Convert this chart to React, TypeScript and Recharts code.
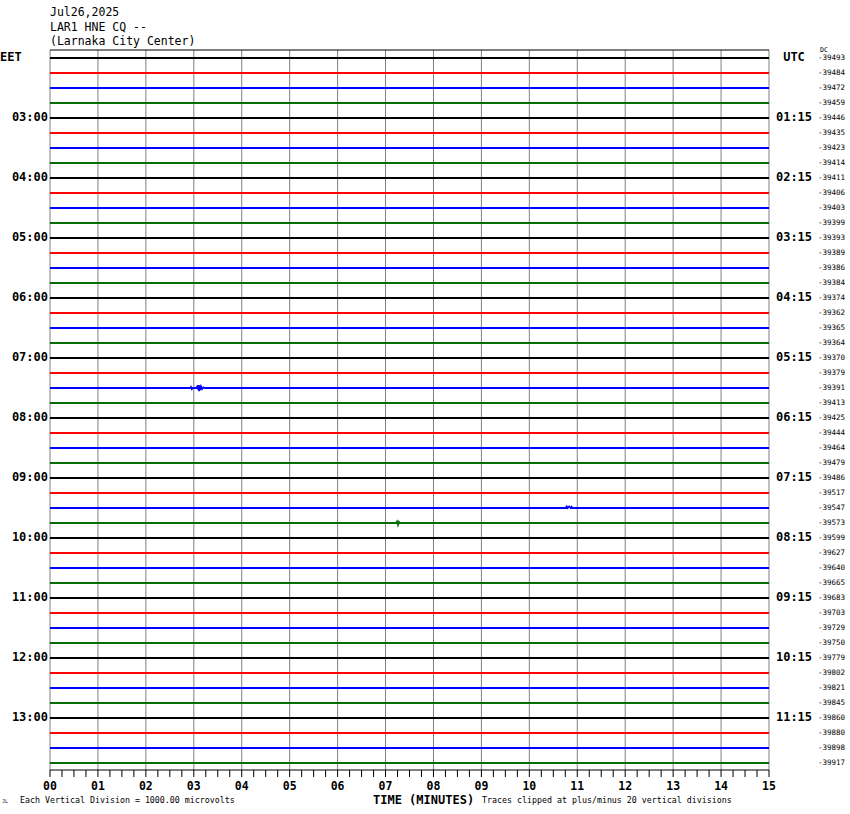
import React from 'react';
import { LineChart, Line, XAxis, YAxis, ReferenceLine } from 'recharts';

const HEADER_LINES = ['Jul26,2025', 'LAR1 HNE CQ --', '(Larnaka City Center)'];
const TRACE_COLORS = ['#000000', '#ff0000', '#0000ff', '#006e00'];
const EET_LABELS = ['EET', '03:00', '04:00', '05:00', '06:00', '07:00', '08:00', '09:00', '10:00', '11:00', '12:00', '13:00'];
const UTC_LABELS = ['UTC', '01:15', '02:15', '03:15', '04:15', '05:15', '06:15', '07:15', '08:15', '09:15', '10:15', '11:15'];
const DC_VALUES = [
  -39493, -39484, -39472, -39459, -39446, -39435, -39423, -39414,
  -39411, -39406, -39403, -39399, -39393, -39389, -39386, -39384,
  -39374, -39362, -39365, -39364, -39370, -39379, -39391, -39413,
  -39425, -39444, -39464, -39479, -39486, -39517, -39547, -39573,
  -39599, -39627, -39640, -39665, -39683, -39703, -39729, -39750,
  -39779, -39802, -39821, -39845, -39860, -39880, -39898, -39917,
];
const MINUTE_LABELS = ['00', '01', '02', '03', '04', '05', '06', '07', '08', '09', '10', '11', '12', '13', '14', '15'];
const MINUTES = [0, 1, 2, 3, 4, 5, 6, 7, 8, 9, 10, 11, 12, 13, 14, 15];
const QUARTER_TICKS = Array.from({ length: 61 }, (_, i) => i / 4);

// small visible wiggles: [minute, offset in vertical divisions]
const EVENT_ROW22 = [
  [2.92, 0], [2.94, -0.07], [2.96, 0.07], [2.98, 0], [3.05, 0], [3.07, -0.09], [3.09, 0.1],
  [3.1, -0.2], [3.11, 0.22], [3.12, -0.18], [3.13, 0.14], [3.15, -0.09], [3.17, 0.07], [3.2, -0.04], [3.23, 0],
];
const EVENT_ROW30 = [[10.76, 0], [10.78, -0.1], [10.8, 0], [10.83, -0.1], [10.86, 0], [10.88, -0.08], [10.9, 0]];
const EVENT_ROW31 = [[7.22, 0], [7.24, -0.1], [7.26, 0.12], [7.28, -0.08], [7.3, 0]];
const EVENTS: Record<number, number[][]> = { 22: EVENT_ROW22, 30: EVENT_ROW30, 31: EVENT_ROW31 };

const Y_TOP = -8 / 15;
const Y_BOTTOM = 47 + 7 / 15;
const ROWS = DC_VALUES.map((_, i) => i);

const traces = ROWS.map((row) => {
  const ev = EVENTS[row] || [];
  const pts = [{ t: 0, v: row }, ...ev.map(([t, o]) => ({ t, v: row + o })), { t: 15, v: row }];
  return pts;
});

const MONO = "'DejaVu Sans Mono', monospace";

const XTick = (props: any) => {
  const { x, payload } = props;
  const v = payload.value;
  if (!Number.isInteger(v)) return <g />;
  return (
    <text x={x} y={786} textAnchor="middle" dominantBaseline="central" fontFamily={MONO} fontWeight="bold" fontSize={11.5} fill="#000">
      {MINUTE_LABELS[v]}
    </text>
  );
};

const LeftTick = (props: any) => {
  const { y, payload } = props;
  const row = payload.value;
  if (row % 4 !== 0) return <g />;
  const label = EET_LABELS[row / 4];
  if (row === 0) {
    return (
      <text x={0} y={y - 1} textAnchor="start" dominantBaseline="central" fontFamily={MONO} fontWeight="bold" fontSize={12} fill="#000">
        {label}
      </text>
    );
  }
  return (
    <text x={48} y={y - 1} textAnchor="end" dominantBaseline="central" fontFamily={MONO} fontWeight="bold" fontSize={12} fill="#000">
      {label}
    </text>
  );
};

const RightTick = (props: any) => {
  const { y, payload } = props;
  const row = payload.value;
  return (
    <g>
      {row % 4 === 0 && (
        <text x={794} y={y - 1} textAnchor="middle" dominantBaseline="central" fontFamily={MONO} fontWeight="bold" fontSize={12} fill="#000">
          {UTC_LABELS[row / 4]}
        </text>
      )}
      <text x={818} y={y - 0.5} textAnchor="start" dominantBaseline="central" fontFamily={MONO} fontSize={7.5} fill="#000">
        {DC_VALUES[row]}
      </text>
    </g>
  );
};

export default function App() {
  return (
    <div style={{ position: 'absolute', left: 0, top: 0, width: 850, height: 814, background: '#fff' }}>
      <LineChart width={850} height={814} margin={{ top: 50, right: 0, bottom: 0, left: 0 }}>
        <XAxis
          type="number"
          dataKey="t"
          domain={[0, 15]}
          ticks={QUARTER_TICKS}
          interval={0}
          height={44}
          tickSize={7}
          tickLine={{ stroke: '#000' }}
          axisLine={{ stroke: '#000' }}
          tick={<XTick />}
          allowDataOverflow
        />
        <YAxis
          yAxisId="left"
          orientation="left"
          type="number"
          domain={[Y_TOP, Y_BOTTOM]}
          reversed
          ticks={ROWS}
          interval={0}
          width={50}
          axisLine={false}
          tickLine={false}
          tick={<LeftTick />}
          allowDataOverflow
        />
        <YAxis
          yAxisId="right"
          orientation="right"
          type="number"
          domain={[Y_TOP, Y_BOTTOM]}
          reversed
          ticks={ROWS}
          interval={0}
          width={81}
          axisLine={false}
          tickLine={false}
          tick={<RightTick />}
          allowDataOverflow
        />
        {MINUTES.map((m) => (
          <ReferenceLine key={'g' + m} x={m} yAxisId="left" stroke="#808080" strokeWidth={1} ifOverflow="visible" />
        ))}
        <ReferenceLine y={Y_TOP} yAxisId="left" stroke="#000" strokeWidth={1} ifOverflow="visible" />
        {traces.map((data, row) => (
          <Line
            key={'tr' + row}
            yAxisId="left"
            data={data}
            dataKey="v"
            type="linear"
            stroke={TRACE_COLORS[row % 4]}
            strokeWidth={1.8}
            dot={false}
            activeDot={false}
            isAnimationActive={false}
          />
        ))}
      </LineChart>
      <svg width={850} height={814} style={{ position: 'absolute', left: 0, top: 0, pointerEvents: 'none' }}>
        {HEADER_LINES.map((t, i) => (
          <text key={t} x={50} y={[16, 31, 45][i]} fontFamily={MONO} fontSize={11.5} fill="#000">
            {t}
          </text>
        ))}
        <text x={820} y={52} fontFamily={MONO} fontSize={6.5} fill="#000">DC</text>
        <text x={373} y={804} fontFamily={MONO} fontWeight="bold" fontSize={12} fill="#000">TIME (MINUTES)</text>
        <text x={20} y={803} fontFamily={MONO} fontSize={8.3} fill="#000">Each Vertical Division = 1000.00 microvolts</text>
        <text x={482} y={803} fontFamily={MONO} fontSize={8.3} fill="#000">Traces clipped at plus/minus 20 vertical divisions</text>
        <text x={2} y={803} fontFamily={MONO} fontSize={5} fill="#000">JL</text>
      </svg>
    </div>
  );
}
